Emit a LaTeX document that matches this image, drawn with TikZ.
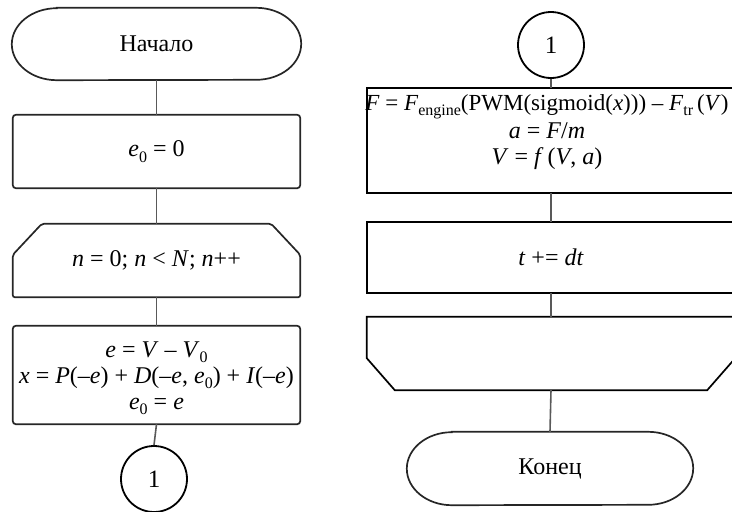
\documentclass[tikz,border=0pt]{standalone}
\usepackage{fontspec}
\setmainfont{Liberation Serif}
% italic variable and lowered subscript
\newcommand\iv[1]{\textit{#1}}
\newcommand\lo[1]{\raisebox{-0.5ex}{\fontsize{16}{16}\selectfont #1}}
\begin{document}
\begin{tikzpicture}[
  x=1pt, y=1pt,
  frame/.style 2 args={minimum width=#1, minimum height=#2, inner sep=0pt,
    draw=none, align=center, font=\fontsize{24}{26}\selectfont},
  txt/.style={inner sep=0pt, align=center, font=\fontsize{24}{26}\selectfont},
  outline/.style={draw=black!85, line width=1.7pt},
  link/.style={draw=black!65, line width=1.6pt},
  connector/.style={circle, draw=black, line width=1.8pt, minimum size=66pt,
    inner sep=0pt, font=\fontsize{25}{26}\selectfont}
]
\clip (0,0) rectangle (732,-512);

% ---- left column ----
\node[frame={289}{72}] (start) at (156.5,-44) {Начало};
\node[frame={287}{73}] (init)  at (156.5,-151.5) {\iv{e}\lo{0} = 0};
\node[frame={287}{73}] (loopA) at (156.5,-260.5) {\iv{n} = 0; \iv{n} < \iv{N}; \iv{n}++};
\node[frame={287}{98}] (calc)  at (156.5,-375) {};
\node[txt] (calcTxt) at (156.5,-378)
  {\iv{e} = \iv{V} – \iv{V}\lo{0}\\
   \iv{x} = \iv{P}(–\iv{e}) + \iv{D}(–\iv{e}, \iv{e}\lo{0}) + \iv{I}(–\iv{e})\\
   \iv{e}\lo{0} = \iv{e}};
\node[connector] (c1) at (154,-479) {1};

% ---- right column ----
\node[connector] (c2) at (551,-45) {1};
\node[frame={368}{105}] (phys) at (551,-140.5) {};
\node[txt] (physTxt) at (547,-132)
  {{\fontsize{23}{26}\selectfont\iv{F} = \iv{F}\lo{engine}(PWM(sigmoid(\iv{x}))) – \iv{F}\lo{tr}\,(\iv{V})}\\[2pt]
   \iv{a} = \iv{F}/\iv{m}\\
   \iv{V} = \iv{f}\,(\iv{V}, \iv{a})};
\node[frame={368}{71}] (tstep) at (551,-257.5) {\iv{t} += \iv{dt}};
\node[frame={368}{73}] (loopB) at (551,-353.5) {};
\node[frame={286}{73}] (stop)  at (550,-468.5) {Конец};

% ---- outlines ----
\draw[outline] ([xshift=45pt]start.north west) -- ([xshift=-45pt]start.north east)
  arc[start angle=90, end angle=-90, x radius=45pt, y radius=36pt]
  -- ([xshift=45pt]start.south west)
  arc[start angle=270, end angle=90, x radius=45pt, y radius=36pt] -- cycle;
\draw[outline, rounded corners=3pt] (init.north west) rectangle (init.south east);
\draw[outline, rounded corners=2pt]
  ([xshift=29pt]loopA.north west) -- ([xshift=-29pt]loopA.north east)
  -- ([yshift=-31pt]loopA.north east) -- (loopA.south east)
  -- (loopA.south west) -- ([yshift=-31pt]loopA.north west) -- cycle;
\draw[outline, rounded corners=3pt] (calc.north west) rectangle (calc.south east);

\draw[outline, draw=black] (phys.north west) rectangle (phys.south east);
\draw[outline, draw=black] (tstep.north west) rectangle (tstep.south east);
\draw[outline, draw=black]
  (loopB.north west) -- (loopB.north east) -- ([yshift=32pt]loopB.south east)
  -- ([xshift=-28pt]loopB.south east) -- ([xshift=28pt]loopB.south west)
  -- ([yshift=32pt]loopB.south west) -- cycle;
\draw[outline] ([xshift=45pt]stop.north west) -- ([xshift=-45pt]stop.north east)
  arc[start angle=90, end angle=-90, x radius=45pt, y radius=36.5pt]
  -- ([xshift=45pt]stop.south west)
  arc[start angle=270, end angle=90, x radius=45pt, y radius=36.5pt] -- cycle;

% ---- connectors ----
\draw[link] (start.south) -- (init.north);
\draw[link] (init.south) -- (loopA.north);
\draw[link] (loopA.south) -- (calc.north);
\draw[link] (calc.south) -- (c1.north);
\draw[link] (c2.south) -- (phys.north);
\draw[link] (phys.south) -- (tstep.north);
\draw[link] (tstep.south) -- (loopB.north);
\draw[link] (loopB.south) -- (stop.north);
\end{tikzpicture}
\end{document}
